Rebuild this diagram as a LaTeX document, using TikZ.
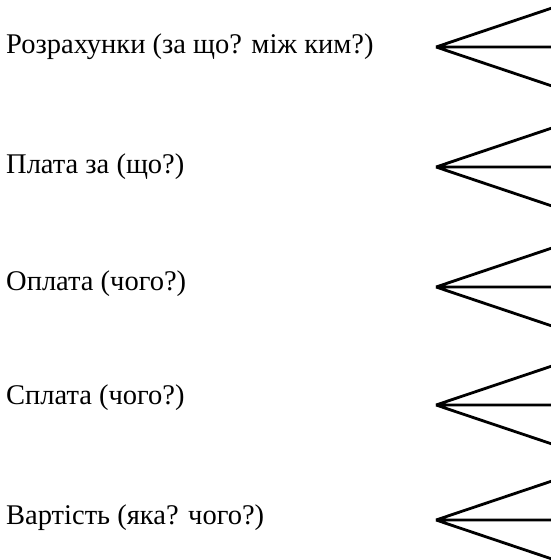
\documentclass[tikz,border=0pt]{standalone}
\usepackage{fontspec}
\setmainfont{Liberation Serif}
\usetikzlibrary{positioning}

\begin{document}
\begin{tikzpicture}[
    x=1pt, y=-1pt,
    font=\fontsize{28.5}{34}\selectfont,
    lbl/.style={anchor=west, inner sep=0pt},
    fan/.style={line width=2.8pt, line join=miter},
  ]
    \useasboundingbox (0,0) rectangle (551,560);

    \node[lbl] (rozr)  at (6,47)  {Розрахунки (за що? між ким?)};
    \node[lbl] (plata) at (6,167) {Плата за (що?)};
    \node[lbl] (opl)   at (6,284) {Оплата (чого?)};
    \node[lbl] (spl)   at (6,398) {Сплата (чого?)};
    \node[lbl] (vart)  at (6,518) {Вартість (яка? чого?)};

    % fan tips
    \coordinate (frozr)  at (436,47);
    \coordinate (fplata) at (436,167);
    \coordinate (fopl)   at (436,287);
    \coordinate (fspl)   at (436,405);
    \coordinate (fvart)  at (436,520);

    \draw[fan] (frozr)  -- ++(116,-39) (frozr)  -- ++(116,0) (frozr)  -- ++(116,39);
    \draw[fan] (fplata) -- ++(116,-39) (fplata) -- ++(116,0) (fplata) -- ++(116,39);
    \draw[fan] (fopl)   -- ++(116,-39) (fopl)   -- ++(116,0) (fopl)   -- ++(116,39);
    \draw[fan] (fspl)   -- ++(116,-39) (fspl)   -- ++(116,0) (fspl)   -- ++(116,39);
    \draw[fan] (fvart)  -- ++(116,-39) (fvart)  -- ++(116,0) (fvart)  -- ++(116,39);
\end{tikzpicture}
\end{document}
